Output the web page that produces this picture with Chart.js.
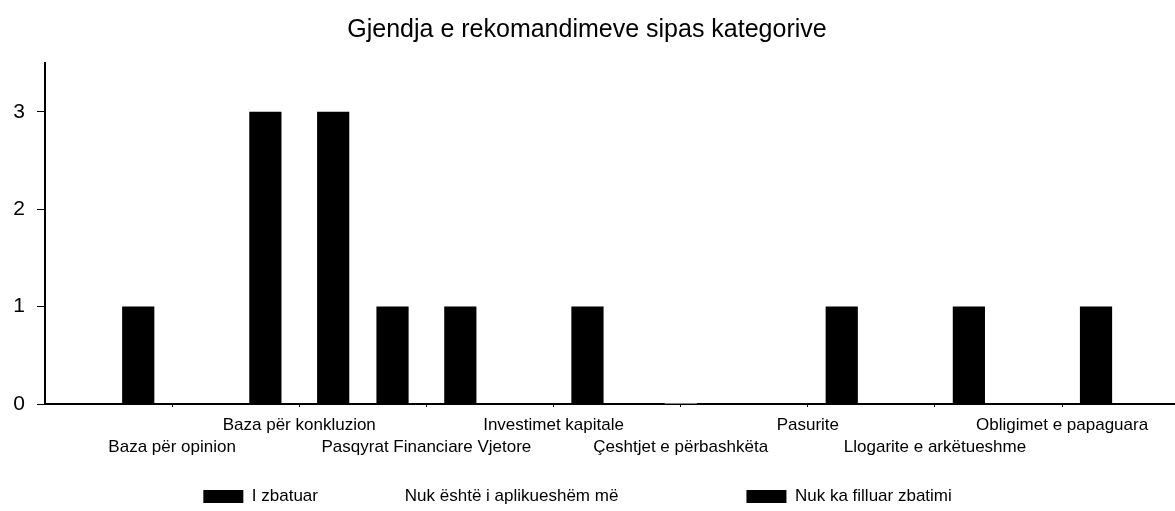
<!DOCTYPE html>
<html>
<head>
<meta charset="utf-8">
<script src="https://cdn.jsdelivr.net/npm/chart.js@4"></script>
<style>
  body { margin: 0; background: #fff; }
  #wrap { width: 1175px; height: 511px; }
</style>
</head>
<body>
<div id="wrap"><canvas id="grafico"></canvas></div>
<script>
// kategorite (boshti X)
const kategorite = [
    'Baza për opinion',
    'Baza për konkluzion',
    'Pasqyrat Financiare Vjetore',
    'Investimet kapitale',
    'Çeshtjet e përbashkëta',
    'Pasurite',
    'Llogarite e arkëtueshme',
    'Obligimet e papaguara'
];
const zbatuar = [1, 3, 1, 0, 0, 0, 0, 0];
const joAplikueshem = [0, 0, 0, 0, 1, 0, 0, 0];
const paFilluar = [0, 3, 1, 1, 0, 1, 1, 1];
const yTicks = [0, 1, 2, 3];

const font = 'Liberation Sans, Arial, sans-serif';
// hapesira pas tekstit te legjendes
const legendPad = [6, 25, 4];

const pike = arr => arr.map((v, i) => ({ x: i, y: v }));

new Chart(document.getElementById('grafico'), {
    type: 'bar',
    data: {
        datasets: [
            { label: 'I zbatuar', data: pike(zbatuar), backgroundColor: '#000', borderWidth: 0 },
            { label: 'Nuk është i aplikueshëm më', data: pike(joAplikueshem), backgroundColor: '#fff', borderWidth: 0 },
            { label: 'Nuk ka filluar zbatimi', data: pike(paFilluar), backgroundColor: '#000', borderWidth: 0 }
        ]
    },
    options: {
        responsive: true,
        maintainAspectRatio: false,
        animation: false,
        categoryPercentage: 0.8,
        barPercentage: 0.95,
        layout: { padding: { top: 0, right: 1, bottom: -4, left: 0 } },
        plugins: {
            tooltip: { enabled: false },
            title: {
                display: true,
                text: 'Gjendja e rekomandimeve sipas kategorive',
                color: '#000',
                font: { family: font, size: 25, weight: 'normal' },
                padding: { top: 15, bottom: 18 }
            },
            legend: {
                position: 'bottom',
                labels: {
                    color: '#000',
                    font: { family: font, size: 17 },
                    boxWidth: 40,
                    boxHeight: 13,
                    padding: 10,
                    generateLabels(chart) {
                        const items = Chart.defaults.plugins.legend.labels.generateLabels(chart);
                        items.forEach((it, i) => { it.text = it.text + ' '.repeat(legendPad[i]); it.lineWidth = 0; });
                        return items;
                    }
                }
            }
        },
        scales: {
            x: {
                type: 'linear',
                offset: false,
                min: -1,
                max: 7.88,
                afterBuildTicks: s => { s.ticks = kategorite.map((_, i) => ({ value: i })); },
                afterFit: s => { s.height = 74; },
                grid: { offset: false, drawOnChartArea: false, drawTicks: true, tickLength: 3, color: '#000' },
                border: { color: '#000', width: 2 },
                ticks: {
                    autoSkip: false,
                    maxRotation: 0,
                    padding: 7,
                    color: '#000',
                    font: { family: font, size: 17, lineHeight: 1.3 },
                    callback: v => (v % 2 === 0 ? ['', kategorite[v]] : [kategorite[v]]) // dy rreshta te alternuar
                }
            },
            y: {
                min: 0,
                max: 3.5,
                afterBuildTicks: s => { s.ticks = yTicks.map(v => ({ value: v })); },
                afterFit: s => { s.width = 45; },
                grid: { drawOnChartArea: false, drawTicks: true, tickLength: 8, color: '#000' },
                border: { color: '#000', width: 2 },
                ticks: {
                    padding: 12,
                    color: '#000',
                    font: { family: font, size: 21 }
                }
            }
        }
    }
});
</script>
</body>
</html>
